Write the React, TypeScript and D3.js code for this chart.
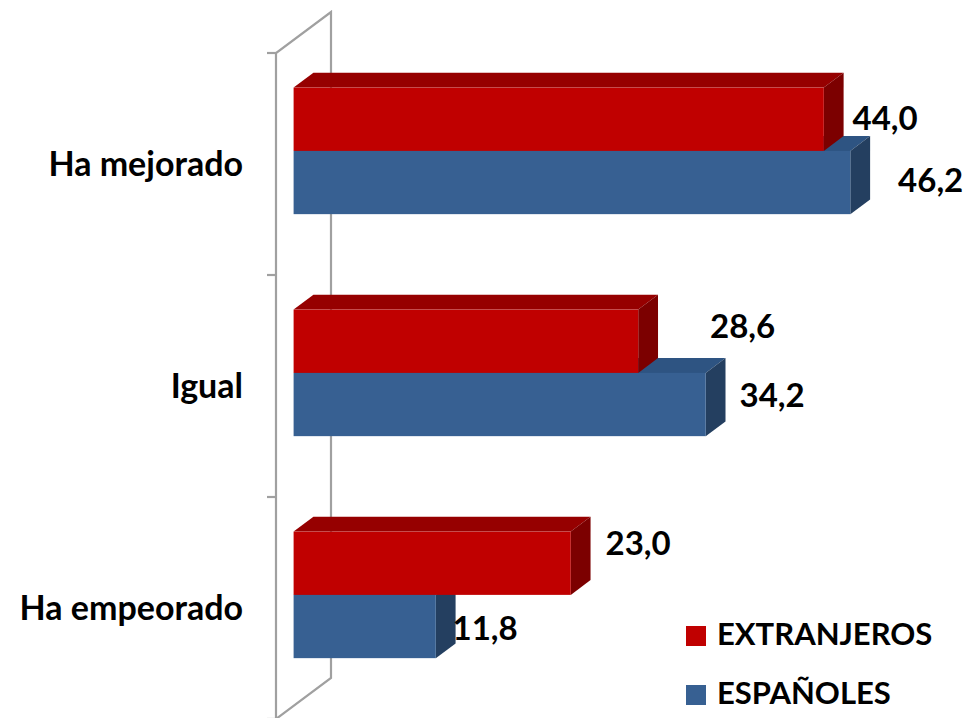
import React from 'react';
import * as d3 from 'd3';

// Data
const categories = ['Ha mejorado', 'Igual', 'Ha empeorado'];
const seriesNames = ['EXTRANJEROS', 'ESPAÑOLES'];
const extranjeros = [44.0, 28.6, 23.0];
const espanoles = [46.2, 34.2, 11.8];

// Per-label nudges (Excel places 3D labels a bit irregularly)
const labelNudge: [number, number][][] = [
  [[1, 0], [44, -14], [7, -19]],
  [[20, -2], [6, -9], [-11, 2]],
];

const WIDTH = 965;
const HEIGHT = 718;
const FONT = 'Lato, "Open Sans", sans-serif';
const FS_VALUE = 33;
const FS_CAT = 34;
const FS_LEGEND = 31;

const palette = {
  EXTRANJEROS: { front: '#c00000', top: '#960000', side: '#7c0000' },
  ESPAÑOLES: { front: '#376092', top: '#2e5482', side: '#243f60' },
} as Record<string, { front: string; top: string; side: string }>;

// wall geometry
const wallX = 276;
const wallTop = 53;
const wallBottom = 719;
const depth = { x: 55, y: -41 };
const barStart = 0.32;
const barEnd = 0.68;

export default function App() {
  const values = [extranjeros, espanoles];

  const x = d3.scaleLinear().domain([0, 50]).range([wallX, wallX + 602.5]);
  const y = d3
    .scaleBand<string>()
    .domain(categories)
    .range([wallTop, wallBottom])
    .paddingInner(0.43)
    .paddingOuter(0.215);
  const ySeries = d3
    .scaleBand<string>()
    .domain(seriesNames)
    .range([0, y.bandwidth()]);

  const off = { x: depth.x * barStart, y: depth.y * barStart };
  const dd = { x: depth.x * (barEnd - barStart), y: depth.y * (barEnd - barStart) };

  const tickStep = (wallBottom - wallTop) / categories.length;
  const ticks = d3.range(categories.length + 1).map((i) => wallTop + i * tickStep);

  const bars: React.ReactNode[] = [];
  const labels: React.ReactNode[] = [];
  categories.forEach((cat, ci) => {
    // draw lower series first so the upper bar covers its top face
    [1, 0].forEach((si) => {
      const name = seriesNames[si];
      const v = values[si][ci];
      const c = palette[name];
      const x0 = x(0) + off.x;
      const x1 = x(v) + off.x;
      const y0 = (y(cat) ?? 0) + ySeries(name)! + off.y;
      const y1 = y0 + ySeries.bandwidth();
      const top = [
        [x0, y0], [x1, y0], [x1 + dd.x, y0 + dd.y], [x0 + dd.x, y0 + dd.y],
      ];
      const side = [
        [x1, y0], [x1, y1], [x1 + dd.x, y1 + dd.y], [x1 + dd.x, y0 + dd.y],
      ];
      bars.push(
        <g key={`${cat}-${name}`}>
          <polygon points={top.map((p) => p.join(',')).join(' ')} fill={c.top} />
          <polygon points={side.map((p) => p.join(',')).join(' ')} fill={c.side} />
          <rect x={x0} y={y0} width={x1 - x0} height={y1 - y0} fill={c.front} />
        </g>
      );
      const [nx, ny] = labelNudge[si][ci];
      labels.push(
        <text
          key={`l-${cat}-${name}`}
          x={x1 + dd.x + 8 + nx}
          y={(y0 + y1) / 2 + 11 + ny}
          fontFamily={FONT}
          fontWeight={700}
          fontSize={FS_VALUE}
          fill="#000"
        >
          {d3.format('.1f')(v).replace('.', ',')}
        </text>
      );
    });
  });

  return (
    <svg
      width={WIDTH}
      height={HEIGHT}
      style={{ position: 'absolute', left: 0, top: 0, background: '#fff' }}
    >
      {/* side wall */}
      <g stroke="#a0a0a0" strokeWidth={2.2} fill="none">
        <path
          d={`M${wallX},${wallBottom} L${wallX},${wallTop} L${wallX + depth.x},${wallTop + depth.y} L${wallX + depth.x},${wallBottom + depth.y} Z`}
        />
        {ticks.map((t, i) => (
          <line key={i} x1={wallX - 9} x2={wallX} y1={t} y2={t} />
        ))}
      </g>

      {bars}
      {labels}

      {/* category labels */}
      {categories.map((cat) => (
        <text
          key={cat}
          x={243}
          y={(y(cat) ?? 0) + y.bandwidth() / 2 + 12}
          textAnchor="end"
          fontFamily={FONT}
          fontWeight={700}
          fontSize={FS_CAT}
        >
          {cat}
        </text>
      ))}

      {/* legend */}
      {seriesNames.map((name, i) => (
        <g key={name} transform={`translate(686, ${626 + i * 59})`}>
          <rect width={20} height={20} fill={palette[name].front} />
          <text x={31} y={19} fontFamily={FONT} fontWeight={700} fontSize={FS_LEGEND}>
            {name}
          </text>
        </g>
      ))}
    </svg>
  );
}
